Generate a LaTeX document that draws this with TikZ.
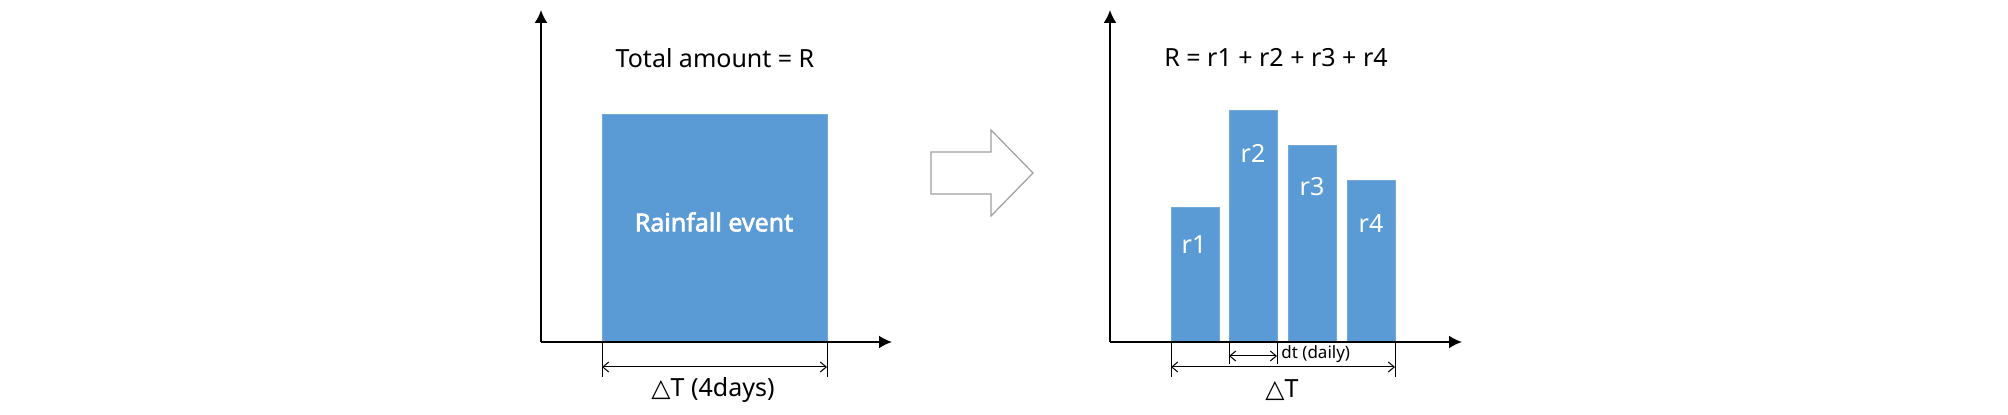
\documentclass[tikz,border=0pt]{standalone}
\usepackage{fontspec}
\setmainfont{Noto Sans}
\newfontfamily\symf{DejaVu Sans}
\newfontfamily\evf{Noto Sans}[FakeBold=2.5]
\usetikzlibrary{arrows.meta}
\definecolor{barblue}{HTML}{5B9BD5}
\begin{document}
\begin{tikzpicture}[x=0.5pt,y=-0.5pt,
  axis/.style={line width=1pt,-{Latex[length=6.5pt,width=6.5pt]}},
  dim/.style={line width=0.5pt,{Straight Barb[length=3pt,width=5pt]}-{Straight Barb[length=3pt,width=5pt]}},
  ext/.style={line width=0.5pt},
  bar/.style={fill=barblue,draw=barblue!85!white,line width=0.3pt,anchor=south west,inner sep=0pt,outer sep=0pt,minimum width=24pt},
  lbl/.style={font=\fontsize{12.5}{15}\selectfont,inner sep=0pt},
  barlbl/.style={font=\fontsize{12.5}{15}\selectfont,text=white,inner sep=0pt},
  small/.style={font=\fontsize{8.5}{10}\selectfont,inner sep=0pt}
]
\useasboundingbox (0,0) rectangle (2008,415);
% ---------- left chart ----------
\coordinate (o1) at (541,342);
\coordinate (y1) at (541,10);
\coordinate (x1) at (892,342);
\node[bar,minimum width=112.5pt,minimum height=114pt] (ev) at (602,342) {};
\node[font=\evf\fontsize{12.5}{15}\selectfont,text=white,inner sep=0pt] (evl) at (714,222) {Rainfall event};
\draw[axis] (o1) -- (y1);
\draw[axis] (o1) -- (x1);
\node[lbl] (t1) at (715,58) {Total amount = R};
\coordinate (e1a) at ([yshift=-17.5pt]ev.south west);
\coordinate (e1b) at ([yshift=-17.5pt]ev.south east);
\draw[ext] (ev.south west) -- (e1a);
\draw[ext] (ev.south east) -- (e1b);
\draw[dim] ([yshift=5pt]e1a) -- ([yshift=5pt]e1b);
\node[lbl] (dT1) at (713,390) {{\symf △}T (4days)};
% ---------- hollow arrow ----------
\draw[draw=gray!75,line width=0.6pt,fill=white] (931,152) -- (991,152) -- (991,130) -- (1033,173) -- (991,216) -- (991,194) -- (931,194) -- cycle;
% ---------- right chart ----------
\coordinate (o2) at (1110,342);
\coordinate (y2) at (1110,10);
\coordinate (x2) at (1462,342);
\node[bar,minimum height=67.5pt] (b1) at (1171,342) {};
\node[bar,minimum height=116pt] (b2) at (1229,342) {};
\node[bar,minimum height=98.5pt] (b3) at (1288,342) {};
\node[bar,minimum height=81pt] (b4) at (1347,342) {};
\draw[axis] (o2) -- (y2);
\draw[axis] (o2) -- (x2);
\node[barlbl] (r1) at (1194,245) {r1};
\node[barlbl] (r2) at (1253,153) {r2};
\node[barlbl] (r3) at (1312,187) {r3};
\node[barlbl] (r4) at (1371,224) {r4};
\node[lbl] (t2) at (1276,58) {R = r1 + r2 + r3 + r4};
% dt
\coordinate (d2a) at ([yshift=-11pt]b2.south west);
\coordinate (d2b) at ([yshift=-11pt]b2.south east);
\draw[ext] (b2.south west) -- (d2a);
\draw[ext] (b2.south east) -- (d2b);
\draw[dim] ([yshift=4pt]d2a) -- ([yshift=4pt]d2b);
\node[small,anchor=west] (dtl) at (1281,354) {dt (daily)};
% Delta T
\coordinate (D2a) at ([yshift=-17.5pt]b1.south west);
\coordinate (D2b) at ([yshift=-17.5pt]b4.south east);
\draw[ext] (b1.south west) -- (D2a);
\draw[ext] (b4.south east) -- (D2b);
\draw[dim] ([yshift=5pt]D2a) -- ([yshift=5pt]D2b);
\node[lbl] (dT2) at (1282,390) {{\symf △}T};
\end{tikzpicture}
\end{document}
